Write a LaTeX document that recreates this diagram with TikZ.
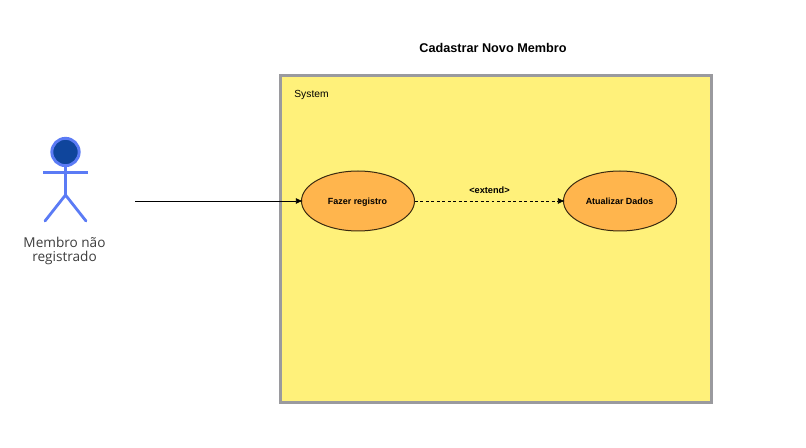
\documentclass[tikz,border=0pt]{standalone}
\usepackage{fontspec}
\setmainfont{Liberation Sans}
\newfontfamily\actorfont{Open Sans}
\usetikzlibrary{arrows.meta,shapes.geometric}
\definecolor{sysfill}{HTML}{FFF17A}
\definecolor{sysline}{HTML}{9A9A9E}
\definecolor{ucfill}{HTML}{FFB54D}
\definecolor{ucline}{HTML}{3A2A10}
\definecolor{actline}{HTML}{5B7BF5}
\definecolor{actfill}{HTML}{0F459C}
\definecolor{acttext}{HTML}{3C3C3C}
\tikzset{
  sysbox/.style={draw=sysline,fill=sysfill,line width=2.25pt,minimum width=323.25pt,minimum height=245.25pt,inner sep=0pt},
  usecase/.style={ellipse,draw=ucline,fill=ucfill,line width=0.75pt,minimum width=84.75pt,minimum height=45pt,inner sep=0pt},
  uctext/.style={inner sep=0pt,text=black,anchor=base,font=\fontsize{6.7}{8}\selectfont\bfseries},
  lbl/.style={inner sep=0pt,text=black},
  limb/.style={draw=actline,line width=2.1pt},
  flow/.style={draw=black,line width=0.5pt,shorten >=-1.2pt,-{Latex[length=5pt,width=4.5pt]}},
}
\begin{document}
\begin{tikzpicture}[x=0.75pt,y=-0.75pt]
\useasboundingbox (0,0) rectangle (806,448);
\node[sysbox] (sys) at (495.7,239.5) {};
\node[lbl,font=\fontsize{9.5}{11}\selectfont\bfseries] (title) at (493,47.5) {Cadastrar Novo Membro};
\node[lbl,font=\fontsize{7.7}{9}\selectfont] (syslabel) at (311.5,94.5) {System};
\node[usecase] (fazer) at (358,201) {};
\node[usecase] (atual) at (620,201) {};
\node[uctext] (fazertxt) at (357.5,204.5) {Fazer registro};
\node[uctext] (atualtxt) at (619.5,204.5) {Atualizar Dados};
\coordinate (start) at (135,201);
\draw[flow] (start) -- (fazer);
\draw[flow,dash pattern=on 2.2pt off 1.9pt] (fazer) -- (atual);
\node[lbl,font=\fontsize{6.9}{8}\selectfont\bfseries] (ext) at (489.5,190.5) {<extend>};
% actor
\node[circle,draw=actline,fill=actfill,line width=2.2pt,minimum size=20.5pt,inner sep=0pt] (head) at (65.5,152) {};
\coordinate (hip) at (65.5,195);
\coordinate (armL) at (43,172.5);
\coordinate (armR) at (88,172.5);
\coordinate (footL) at (45,221);
\coordinate (footR) at (86,221);
\draw[limb] (head) -- (hip);
\draw[limb] (armL) -- (armR);
\draw[limb,line cap=round] (footL) -- (hip) -- (footR);
\node[lbl,align=center,text=acttext,font=\actorfont\fontsize{10.2}{10.5}\selectfont] (actor) at (64.5,251) {Membro não\\registrado};
\end{tikzpicture}
\end{document}
